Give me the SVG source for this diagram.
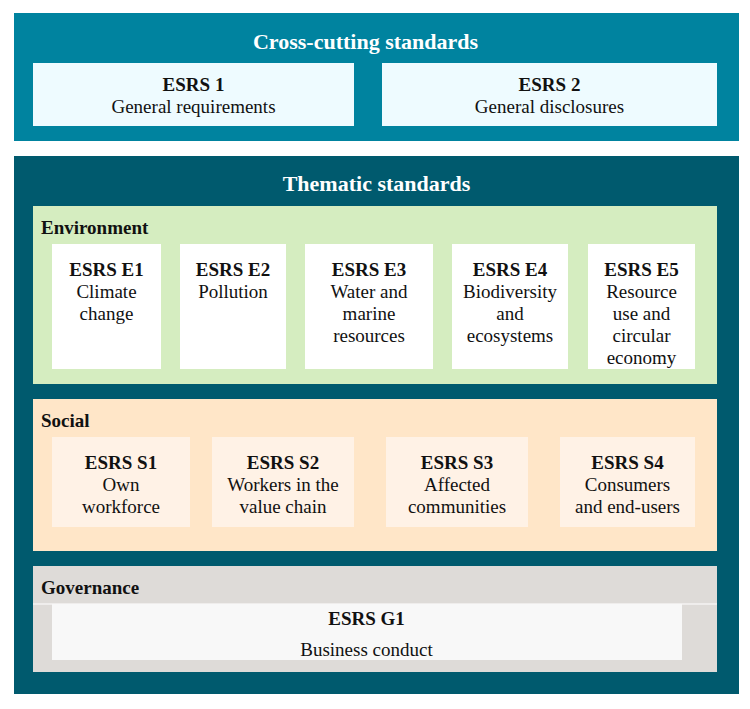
<svg xmlns="http://www.w3.org/2000/svg" width="750" height="709" viewBox="0 0 750 709">
<style>
text{font-family:"Liberation Serif","Times New Roman",serif;fill:#111;}
.title{font-size:22px;font-weight:bold;fill:#fff;text-anchor:middle;}
.sec{font-size:19px;font-weight:bold;}
.c{text-anchor:middle;font-size:19px;}
.b{font-weight:bold;}
.cross{fill:#00839F;}
.them{fill:#005A6E;}
.lb{fill:#EEFBFF;}
.env{fill:#D5EDC0;}
.ebox{fill:#FFFFFF;}
.soc{fill:#FFE6C8;}
.sbox{fill:#FFF2E6;}
.gov{fill:#DEDBD8;}
.gbox{fill:#F8F8F8;}
</style>
<rect width="750" height="709" fill="#fff"/>
<g id="cross-cutting">
<rect class="cross" x="14" y="13" width="725" height="128"/>
<text class="title" x="365.5" y="48.5">Cross-cutting standards</text>
</g>
<g id="esrs1">
<rect class="lb" x="33" y="63" width="321" height="63"/>
<text class="c"><tspan class="b" x="193.5" y="91">ESRS 1</tspan><tspan x="193.5" y="113">General requirements</tspan></text>
</g>
<g id="esrs2">
<rect class="lb" x="382" y="63" width="335" height="63"/>
<text class="c"><tspan class="b" x="549.5" y="91">ESRS 2</tspan><tspan x="549.5" y="113">General disclosures</tspan></text>
</g>
<g id="thematic">
<rect class="them" x="14" y="156" width="725" height="538"/>
<text class="title" x="376.5" y="190.5">Thematic standards</text>
</g>
<g id="environment">
<rect class="env" x="33" y="206" width="684" height="178"/>
<text class="sec" x="41" y="233.5">Environment</text>
</g>
<g id="e1">
<rect class="ebox" x="52" y="244" width="109" height="125"/>
<text class="c"><tspan class="b" x="106.5" y="276">ESRS E1</tspan><tspan x="106.5" y="298">Climate</tspan><tspan x="106.5" y="320">change</tspan></text>
</g>
<g id="e2">
<rect class="ebox" x="180" y="244" width="106" height="125"/>
<text class="c"><tspan class="b" x="233" y="276">ESRS E2</tspan><tspan x="233" y="298">Pollution</tspan></text>
</g>
<g id="e3">
<rect class="ebox" x="305" y="244" width="128" height="125"/>
<text class="c"><tspan class="b" x="369" y="276">ESRS E3</tspan><tspan x="369" y="298">Water and</tspan><tspan x="369" y="320">marine</tspan><tspan x="369" y="342">resources</tspan></text>
</g>
<g id="e4">
<rect class="ebox" x="452" y="244" width="116" height="125"/>
<text class="c"><tspan class="b" x="510" y="276">ESRS E4</tspan><tspan x="510" y="298">Biodiversity</tspan><tspan x="510" y="320">and</tspan><tspan x="510" y="342">ecosystems</tspan></text>
</g>
<g id="e5">
<rect class="ebox" x="588" y="244" width="107" height="125"/>
<text class="c"><tspan class="b" x="641.5" y="276">ESRS E5</tspan><tspan x="641.5" y="298">Resource</tspan><tspan x="641.5" y="320">use and</tspan><tspan x="641.5" y="342">circular</tspan><tspan x="641.5" y="364">economy</tspan></text>
</g>
<g id="social">
<rect class="soc" x="33" y="399" width="684" height="152"/>
<text class="sec" x="41" y="427">Social</text>
</g>
<g id="s1">
<rect class="sbox" x="52" y="437" width="138" height="90"/>
<text class="c"><tspan class="b" x="121" y="469">ESRS S1</tspan><tspan x="121" y="491">Own</tspan><tspan x="121" y="513">workforce</tspan></text>
</g>
<g id="s2">
<rect class="sbox" x="212" y="437" width="142" height="90"/>
<text class="c"><tspan class="b" x="283" y="469">ESRS S2</tspan><tspan x="283" y="491">Workers in the</tspan><tspan x="283" y="513">value chain</tspan></text>
</g>
<g id="s3">
<rect class="sbox" x="386" y="437" width="142" height="90"/>
<text class="c"><tspan class="b" x="457" y="469">ESRS S3</tspan><tspan x="457" y="491">Affected</tspan><tspan x="457" y="513">communities</tspan></text>
</g>
<g id="s4">
<rect class="sbox" x="560" y="437" width="135" height="90"/>
<text class="c"><tspan class="b" x="627.5" y="469">ESRS S4</tspan><tspan x="627.5" y="491">Consumers</tspan><tspan x="627.5" y="513">and end-users</tspan></text>
</g>
<g id="governance">
<rect class="gov" x="33" y="566" width="684" height="106"/>
<text class="sec" x="41" y="593.5">Governance</text>
<rect x="33" y="603.5" width="684" height="1" fill="#fff"/>
</g>
<g id="g1">
<rect class="gbox" x="52" y="604" width="630" height="56"/>
<text class="c"><tspan class="b" x="366.5" y="625">ESRS G1</tspan><tspan x="366.5" y="655.5">Business conduct</tspan></text>
</g>
<g id="connectors"></g>
</svg>
